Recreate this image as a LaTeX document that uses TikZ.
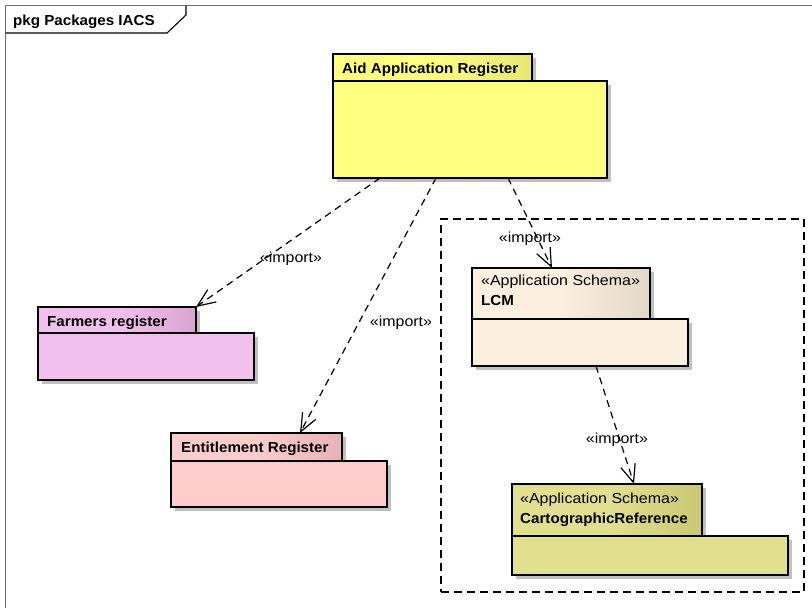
\documentclass[tikz,border=0pt]{standalone}
\usepackage{fontspec}
\setmainfont{Liberation Sans}[FakeStretch=1.10]
\newfontfamily\hdfont{Liberation Sans}[FakeStretch=1.045]
\usetikzlibrary{arrows.meta,shadows,calc}

\definecolor{aarBody}{HTML}{FFFF80}
\definecolor{aarDark}{HTML}{E6E673}
\definecolor{farmBody}{HTML}{F2C0EC}
\definecolor{farmDark}{HTML}{DAA4D0}
\definecolor{entBody}{HTML}{FFCCCC}
\definecolor{entDark}{HTML}{E6B2B4}
\definecolor{lcmBody}{HTML}{FBF0E0}
\definecolor{lcmDark}{HTML}{E2D8C8}
\definecolor{cartoBody}{HTML}{E0E090}
\definecolor{cartoDark}{HTML}{C8C874}
\definecolor{shadowgray}{HTML}{C0C0C0}
\definecolor{framegray}{HTML}{6E6E6E}

\newcommand\pkgsize{\fontsize{14.5pt}{17pt}\selectfont}

\tikzset{
  pkgpart/.style={draw=black, line width=1.4pt, rectangle, inner sep=0pt,
    outer sep=0pt, anchor=north west,
    drop shadow={shadow xshift=4pt, shadow yshift=-4pt, fill=shadowgray, opacity=1}},
  tabpart/.style 2 args={pkgpart, left color=#1, right color=#2, middle color=#1},
  bodypart/.style={pkgpart, fill=#1},
  pkgname/.style={anchor=base west, inner sep=0pt, font=\pkgsize\hdfont\bfseries},
  stereo/.style={anchor=base west, inner sep=0pt, font=\pkgsize},
  dep/.style={draw=black, line width=1.2pt, dash pattern=on 7pt off 5pt,
    -{Straight Barb[length=18pt,width=15pt,line width=1.2pt]}},
  deplabel/.style={anchor=base, inner sep=0pt, font=\pkgsize},
  scopebox/.style={draw=black, line width=1.6pt, dash pattern=on 8pt off 5pt,
    rectangle, inner sep=0pt, outer sep=0pt, anchor=north west},
}

\begin{document}
\begin{tikzpicture}[x=1pt, y=-1pt]
\useasboundingbox[fill=white] (0,0) rectangle (812,608);

% diagram frame and its title tab
\draw[framegray, line width=1.8pt] (5.5,608) -- (5.5,5.5) -- (812,5.5);
\draw[black, line width=1.1pt] (5.5,33) -- (167,33) -- (186,15) -- (186,5.5);
\node[pkgname] (title) at (13,25) {pkg Packages IACS};

% dashed grouping box
\node[scopebox, minimum width=363pt, minimum height=373pt] (group) at (441,219) {};

% Aid Application Register
\node[tabpart={aarBody}{aarDark}, minimum width=199pt, minimum height=27pt] (aarTab) at (333,54) {};
\node[bodypart=aarBody, minimum width=274pt, minimum height=97pt] (aarBody) at (333,81) {};
\node[pkgname] (aarName) at (342,73) {Aid Application Register};

% Farmers register
\node[tabpart={farmBody}{farmDark}, minimum width=158pt, minimum height=26pt] (farmTab) at (38,307) {};
\node[bodypart=farmBody, minimum width=216pt, minimum height=47pt] (farmBody) at (38,333) {};
\node[pkgname] (farmName) at (47,326) {Farmers register};

% Entitlement Register
\node[tabpart={entBody}{entDark}, minimum width=171pt, minimum height=28pt] (entTab) at (171,433) {};
\node[bodypart=entBody, minimum width=216pt, minimum height=46pt] (entBody) at (171,461) {};
\node[pkgname] (entName) at (181,452) {Entitlement Register};

% LCM
\node[tabpart={lcmBody}{lcmDark}, minimum width=178pt, minimum height=51pt] (lcmTab) at (472,268) {};
\node[bodypart=lcmBody, minimum width=216pt, minimum height=47pt] (lcmBody) at (472,319) {};
\node[stereo] (lcmStereo) at (481,285) {«Application Schema»};
\node[pkgname] (lcmName) at (481,305) {LCM};

% CartographicReference
\node[tabpart={cartoBody}{cartoDark}, minimum width=190pt, minimum height=52pt] (cartoTab) at (512,484) {};
\node[bodypart=cartoBody, minimum width=276pt, minimum height=39pt] (cartoBody) at (512,536) {};
\node[stereo] (cartoStereo) at (520,503) {«Application Schema»};
\node[pkgname] (cartoName) at (520,523) {CartographicReference};

% import dependencies
\draw[dep] ($(aarBody.south west)+(47,0)$) -- (farmTab.north east);
\draw[dep] ($(aarBody.south west)+(103,0)$) -- ($(entTab.north west)+(129,0)$);
\draw[dep] ($(aarBody.south west)+(175,0)$) -- ($(lcmTab.north west)+(80,0)$);
\draw[dep] ($(lcmBody.south west)+(124,0)$) -- ($(cartoTab.north west)+(122,0)$);

\node[deplabel] (impFarm) at (291,262) {«import»};
\node[deplabel] (impEnt) at (401,326) {«import»};
\node[deplabel] (impLcm) at (530,242) {«import»};
\node[deplabel] (impCarto) at (617,443) {«import»};
\end{tikzpicture}
\end{document}
